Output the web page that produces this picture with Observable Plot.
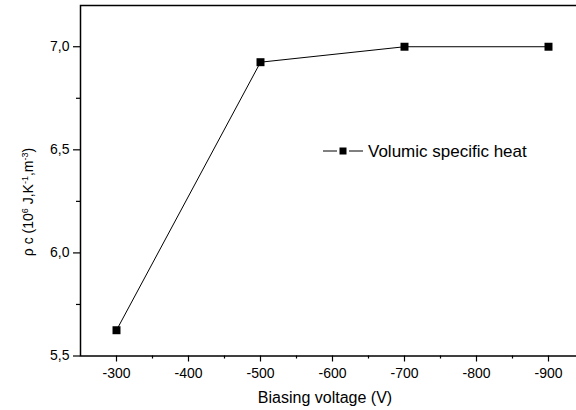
<!DOCTYPE html>
<html>
<head>
<meta charset="utf-8">
<script src="https://cdn.jsdelivr.net/npm/d3@7"></script>
<script src="https://cdn.jsdelivr.net/npm/@observablehq/plot@0.6"></script>
<style>
  html, body { margin: 0; padding: 0; overflow: hidden; background: white; }
  #chart { width: 576px; height: 410px; overflow: hidden; }
</style>
</head>
<body>
<div id="chart"></div>
<script>
// ---- data ----
const voltages = [-300, -500, -700, -900];
const heatValues = [5.625, 6.925, 7.0, 7.0];
const xMajorTicks = [-300, -400, -500, -600, -700, -800, -900];
const xMinorTicks = [-350, -450, -550, -650, -750, -850, -950];
const yMajorTicks = [5.5, 6.0, 6.5, 7.0];
const yMinorTicks = [5.75, 6.25, 6.75];
const seriesName = "Volumic specific heat";
const xTitle = "Biasing voltage (V)";

const data = voltages.map((v, i) => ({voltage: v, heat: heatValues[i]}));
const fontFamily = "'Liberation Sans', Arial, sans-serif";
const commaFmt = d => d3.format(".1f")(d).replace(".", ",");

const plot = Plot.plot({
  width: 584,
  height: 410,
  marginLeft: 80,
  marginRight: 0,
  marginTop: 5,
  marginBottom: 54.5,
  style: {fontFamily, maxWidth: "none", background: "white", overflow: "hidden"},
  x: {domain: [-250, -950]},
  y: {domain: [5.5, 7.2]},
  marks: [
    Plot.axisX(xMajorTicks, {tickSize: 6, tickPadding: 6, fontSize: 14, tickFormat: d => String(d), label: null, strokeWidth: 1.2, fill: "black"}),
    Plot.axisX(xMinorTicks, {tickSize: 3, tickFormat: () => "", label: null, strokeWidth: 1.2}),
    Plot.axisY(yMajorTicks, {tickSize: 7, tickPadding: 4, fontSize: 14, tickFormat: commaFmt, label: null, strokeWidth: 1.2, fill: "black"}),
    Plot.axisY(yMinorTicks, {tickSize: 4, tickFormat: () => "", label: null, strokeWidth: 1.2}),
    Plot.frame({stroke: "black", strokeWidth: 1.5}),
    Plot.line(data, {x: "voltage", y: "heat", stroke: "black", strokeWidth: 1}),
    Plot.dot(data, {x: "voltage", y: "heat", symbol: "square", fill: "black", stroke: "none", r: 4.5})
  ]
});

const svg = d3.select(plot);

// x-axis title
svg.append("text")
  .attr("x", 325).attr("y", 403)
  .attr("text-anchor", "middle")
  .attr("font-family", fontFamily)
  .attr("font-size", 16)
  .attr("fill", "black")
  .text(xTitle);

// y-axis title with superscripts
const yt = svg.append("text")
  .attr("transform", "translate(33,202) rotate(-90)")
  .attr("text-anchor", "middle")
  .attr("font-family", fontFamily)
  .attr("font-size", 14)
  .attr("fill", "black");
const parts = [
  ["ρ c (10", false], ["6", true], [" J,K", false], ["-1", true], [",m", false], ["-3", true], [")", false]
];
parts.forEach(([t, sup]) => {
  const ts = yt.append("tspan").text(t);
  if (sup) ts.attr("font-size", 9).attr("baseline-shift", "super");
});

// legend
const lg = svg.append("g");
lg.append("line").attr("x1", 323).attr("x2", 337).attr("y1", 151).attr("y2", 151)
  .attr("stroke", "black").attr("stroke-width", 1);
lg.append("line").attr("x1", 349).attr("x2", 363).attr("y1", 151).attr("y2", 151)
  .attr("stroke", "black").attr("stroke-width", 1);
lg.append("rect").attr("x", 339.5).attr("y", 147.5).attr("width", 7).attr("height", 7).attr("fill", "black");
lg.append("text").attr("x", 368).attr("y", 157)
  .attr("text-anchor", "start")
  .attr("font-family", fontFamily).attr("font-size", 17).attr("fill", "black")
  .text(seriesName);

document.getElementById("chart").appendChild(plot);
</script>
</body>
</html>
